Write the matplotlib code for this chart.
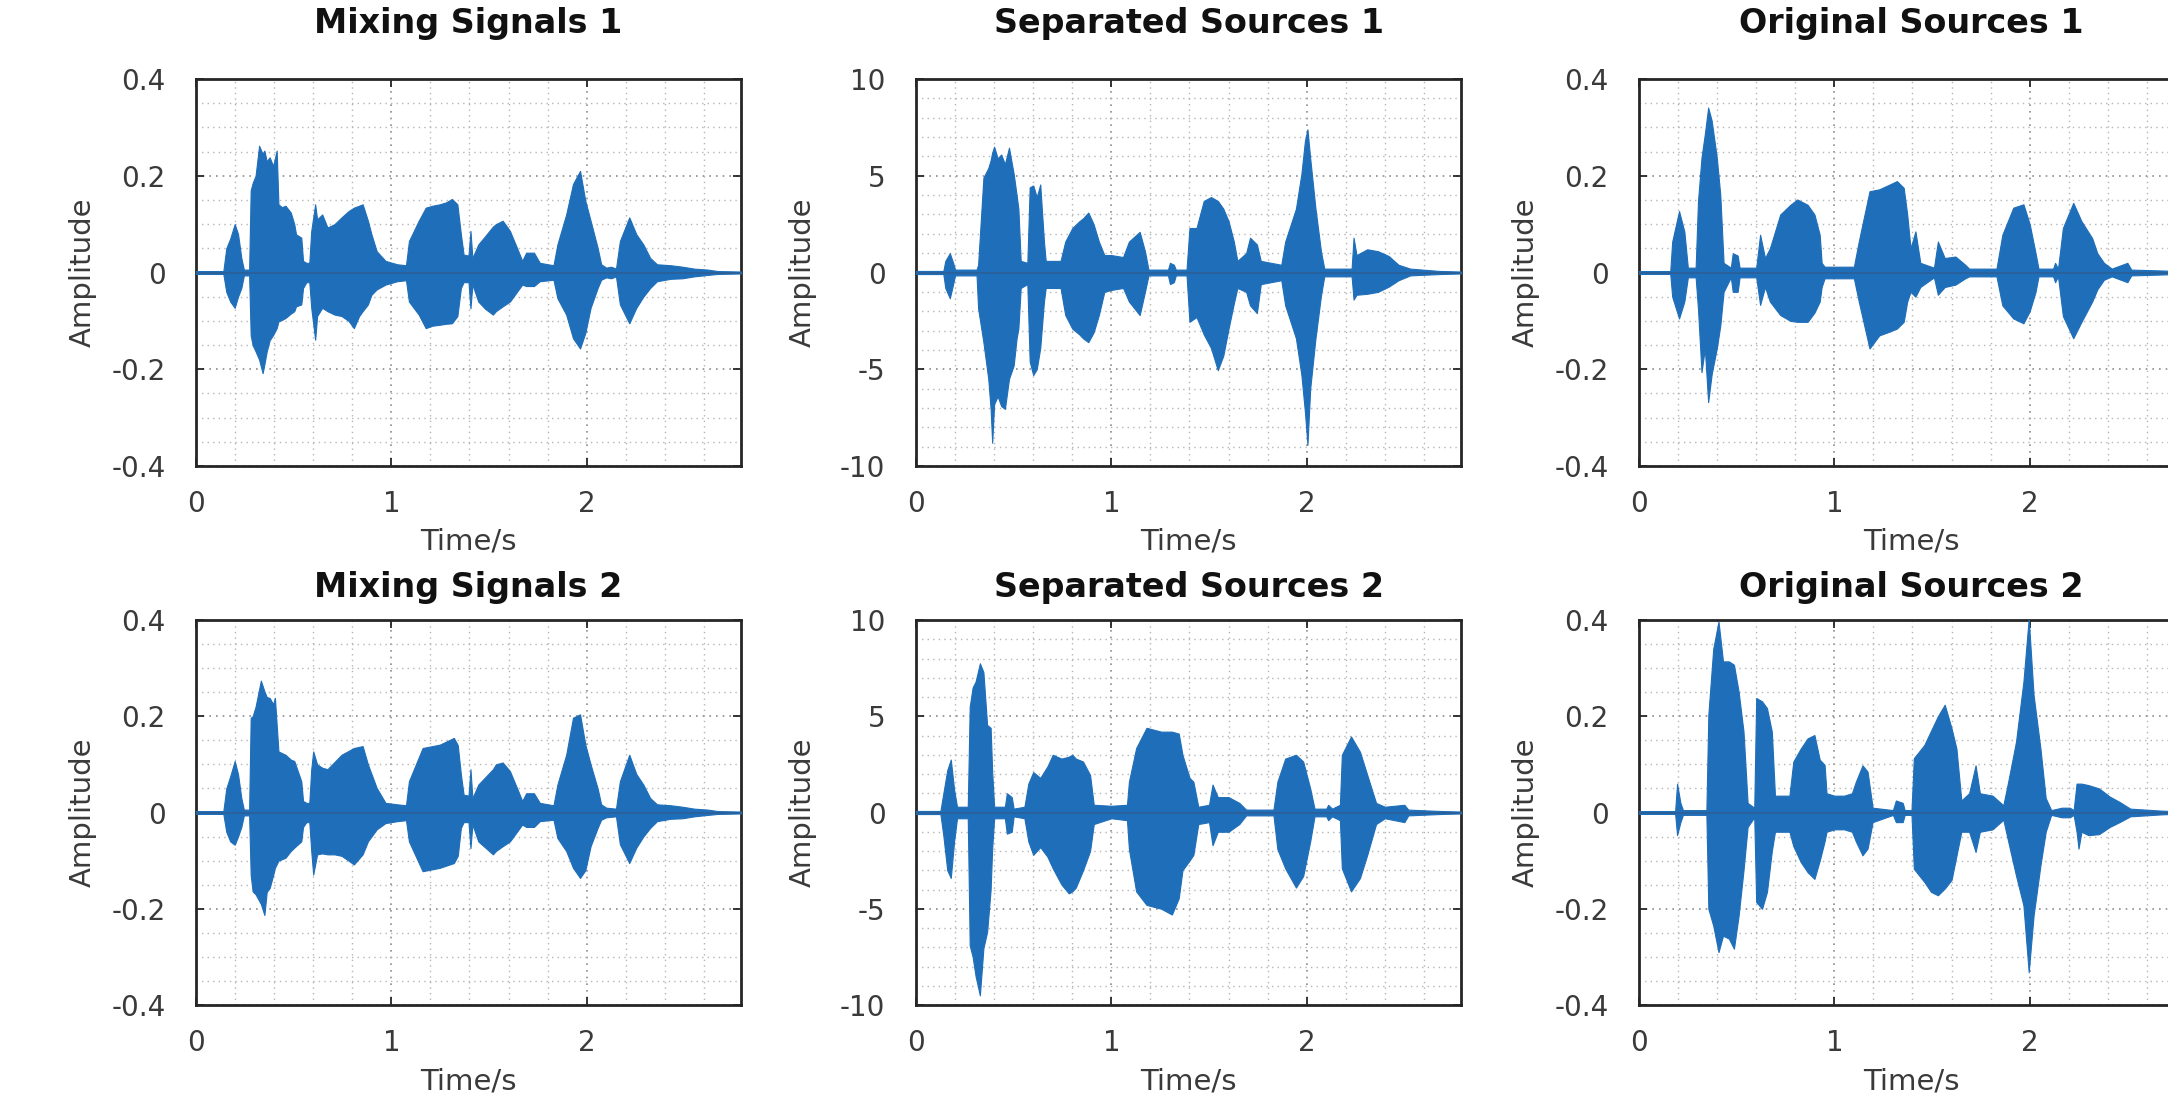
import numpy as np
import matplotlib
matplotlib.use("Agg")
import matplotlib.pyplot as plt
from matplotlib.ticker import MultipleLocator, FixedLocator

# ---------------- data (envelopes) ----------------
titles = ["Mixing Signals 1", "Separated Sources 1", "Original Sources 1",
          "Mixing Signals 2", "Separated Sources 2", "Original Sources 2"]

# Mixing Signals 1
ms1_t = [0.00, 0.14, 0.155, 0.175, 0.198, 0.215, 0.232, 0.245, 0.272, 0.280, 0.290, 0.305, 0.323, 0.341,
         0.350, 0.362, 0.377, 0.395, 0.413, 0.422, 0.440, 0.458, 0.485, 0.503, 0.512, 0.539, 0.548, 0.565,
         0.580, 0.590, 0.610, 0.620, 0.646, 0.673, 0.709, 0.745, 0.781, 0.808, 0.835, 0.853, 0.880, 0.898,
         0.925, 0.970, 1.030, 1.075, 1.090, 1.140, 1.176, 1.210, 1.248, 1.280, 1.310, 1.338, 1.356, 1.370,
         1.395, 1.405, 1.415, 1.445, 1.480, 1.520, 1.535, 1.570, 1.607, 1.643, 1.670, 1.690, 1.730, 1.760,
         1.830, 1.850, 1.895, 1.930, 1.966, 1.993, 2.020, 2.056, 2.074, 2.100, 2.125, 2.150, 2.170, 2.218,
         2.254, 2.290, 2.325, 2.360, 2.430, 2.490, 2.550, 2.620, 2.670, 2.790]
ms1_up = [0.003, 0.003, 0.05, 0.07, 0.10, 0.08, 0.03, 0.006, 0.006, 0.17, 0.185, 0.20, 0.262, 0.245,
          0.252, 0.23, 0.238, 0.22, 0.252, 0.141, 0.135, 0.138, 0.124, 0.10, 0.079, 0.072, 0.024, 0.02,
          0.02, 0.086, 0.141, 0.11, 0.12, 0.093, 0.10, 0.114, 0.127, 0.134, 0.138, 0.141, 0.107, 0.079,
          0.044, 0.024, 0.017, 0.015, 0.065, 0.107, 0.134, 0.138, 0.141, 0.145, 0.152, 0.141, 0.079, 0.037,
          0.035, 0.086, 0.03, 0.058, 0.075, 0.095, 0.10, 0.107, 0.086, 0.051, 0.024, 0.041, 0.041, 0.02,
          0.015, 0.058, 0.12, 0.183, 0.21, 0.148, 0.107, 0.051, 0.017, 0.01, 0.012, 0.008, 0.065, 0.114,
          0.079, 0.058, 0.03, 0.017, 0.015, 0.012, 0.008, 0.006, 0.003, 0.002]
ms1_lo = [-0.003, -0.003, -0.04, -0.06, -0.073, -0.05, -0.032, -0.006, -0.006, -0.13, -0.15, -0.163, -0.18, -0.208,
          -0.19, -0.163, -0.14, -0.129, -0.115, -0.101, -0.098, -0.094, -0.085, -0.08, -0.07, -0.066, -0.032, -0.02,
          -0.02, -0.073, -0.139, -0.09, -0.073, -0.08, -0.087, -0.09, -0.10, -0.115, -0.09, -0.08, -0.066, -0.046,
          -0.035, -0.025, -0.018, -0.016, -0.06, -0.087, -0.115, -0.11, -0.108, -0.106, -0.105, -0.09, -0.032, -0.02,
          -0.02, -0.074, -0.025, -0.06, -0.075, -0.087, -0.08, -0.07, -0.06, -0.04, -0.025, -0.028, -0.028, -0.018,
          -0.015, -0.053, -0.087, -0.136, -0.157, -0.125, -0.073, -0.032, -0.015, -0.01, -0.012, -0.008, -0.066, -0.105,
          -0.073, -0.05, -0.032, -0.018, -0.013, -0.012, -0.008, -0.005, -0.003, -0.002]

# Mixing Signals 2
ms2_t = [0.00, 0.14, 0.155, 0.175, 0.198, 0.215, 0.232, 0.245, 0.272, 0.280, 0.290, 0.305, 0.332, 0.350,
         0.362, 0.377, 0.395, 0.404, 0.422, 0.458, 0.485, 0.503, 0.539, 0.548, 0.565, 0.580, 0.590, 0.600,
         0.620, 0.646, 0.673, 0.709, 0.745, 0.781, 0.808, 0.853, 0.880, 0.925, 0.970, 1.030, 1.075, 1.090,
         1.160, 1.248, 1.320, 1.340, 1.356, 1.370, 1.395, 1.405, 1.415, 1.445, 1.520, 1.535, 1.570, 1.607,
         1.643, 1.670, 1.690, 1.730, 1.760, 1.830, 1.850, 1.895, 1.930, 1.966, 1.993, 2.020, 2.056, 2.074,
         2.100, 2.150, 2.170, 2.218, 2.254, 2.290, 2.325, 2.360, 2.430, 2.490, 2.550, 2.620, 2.670, 2.790]
ms2_up = [0.003, 0.003, 0.05, 0.075, 0.107, 0.08, 0.03, 0.006, 0.006, 0.197, 0.20, 0.22, 0.274, 0.252,
          0.24, 0.238, 0.225, 0.238, 0.127, 0.12, 0.11, 0.107, 0.065, 0.024, 0.02, 0.02, 0.09, 0.127,
          0.10, 0.093, 0.09, 0.105, 0.12, 0.128, 0.134, 0.138, 0.10, 0.051, 0.02, 0.017, 0.015, 0.065,
          0.134, 0.141, 0.155, 0.14, 0.079, 0.037, 0.035, 0.09, 0.03, 0.058, 0.09, 0.10, 0.104, 0.086,
          0.051, 0.024, 0.04, 0.04, 0.02, 0.015, 0.058, 0.12, 0.197, 0.204, 0.141, 0.10, 0.05, 0.017,
          0.01, 0.008, 0.065, 0.12, 0.08, 0.058, 0.03, 0.017, 0.015, 0.012, 0.008, 0.006, 0.003, 0.002]
ms2_lo = [-0.003, -0.003, -0.04, -0.06, -0.067, -0.05, -0.03, -0.006, -0.006, -0.13, -0.164, -0.17, -0.19, -0.213,
          -0.165, -0.157, -0.13, -0.115, -0.10, -0.094, -0.08, -0.073, -0.06, -0.03, -0.02, -0.02, -0.08, -0.129,
          -0.087, -0.085, -0.087, -0.087, -0.09, -0.10, -0.108, -0.087, -0.06, -0.035, -0.022, -0.018, -0.016, -0.06,
          -0.122, -0.115, -0.105, -0.09, -0.032, -0.02, -0.02, -0.074, -0.025, -0.06, -0.087, -0.08, -0.07, -0.06,
          -0.04, -0.025, -0.03, -0.03, -0.018, -0.015, -0.053, -0.08, -0.115, -0.136, -0.12, -0.07, -0.032, -0.015,
          -0.01, -0.008, -0.066, -0.105, -0.073, -0.05, -0.032, -0.018, -0.013, -0.012, -0.008, -0.005, -0.003, -0.002]

# Separated Sources 1
ss1_t = [0.00, 0.14, 0.150, 0.173, 0.190, 0.200, 0.310, 0.318, 0.345, 0.370, 0.382, 0.390, 0.400, 0.418,
         0.436, 0.455, 0.476, 0.500, 0.515, 0.524, 0.536, 0.570, 0.582, 0.600, 0.618, 0.636, 0.655, 0.664,
         0.740, 0.764, 0.800, 0.836, 0.855, 0.882, 0.909, 0.936, 0.964, 1.000, 1.060, 1.090, 1.145, 1.172,
         1.190, 1.290, 1.300, 1.320, 1.330, 1.385, 1.400, 1.436, 1.473, 1.510, 1.545, 1.573, 1.600, 1.627,
         1.645, 1.690, 1.710, 1.745, 1.765, 1.870, 1.890, 1.945, 1.973, 1.991, 2.004, 2.018, 2.045, 2.073,
         2.090, 2.230, 2.240, 2.255, 2.310, 2.365, 2.420, 2.470, 2.530, 2.680, 2.790]
ss1_up = [0.08, 0.08, 0.6, 1.0, 0.5, 0.15, 0.15, 0.4, 4.9, 5.4, 5.8, 6.2, 6.5, 5.9,
          6.1, 5.6, 6.45, 5.1, 4.0, 3.3, 0.6, 0.5, 4.4, 4.5, 3.9, 4.55, 1.6, 0.6,
          0.6, 1.6, 2.3, 2.65, 2.8, 3.1, 2.5, 1.6, 0.9, 0.9, 0.8, 1.6, 2.1, 1.1,
          0.15, 0.15, 0.5, 0.4, 0.15, 0.15, 2.3, 2.3, 3.7, 3.9, 3.7, 3.3, 2.65, 1.6,
          0.6, 1.0, 1.8, 1.45, 0.6, 0.4, 1.6, 3.3, 5.1, 6.8, 7.4, 5.9, 3.3, 1.1,
          0.2, 0.2, 1.8, 0.9, 1.2, 1.1, 0.85, 0.4, 0.2, 0.08, 0.05]
ss1_lo = [-0.08, -0.08, -0.8, -1.33, -0.6, -0.15, -0.15, -1.85, -3.6, -5.5, -7.05, -8.8, -6.8, -6.4,
          -6.9, -7.05, -5.5, -4.8, -3.4, -2.9, -0.8, -0.6, -4.6, -5.3, -5.0, -3.9, -1.5, -0.8,
          -0.8, -2.2, -2.9, -3.2, -3.4, -3.6, -3.1, -2.2, -1.0, -0.9, -0.8, -1.5, -2.2, -1.0,
          -0.15, -0.15, -0.6, -0.5, -0.15, -0.15, -2.55, -2.3, -3.2, -3.9, -5.05, -4.3, -2.9, -1.6,
          -0.8, -1.0, -1.7, -2.1, -0.6, -0.4, -1.7, -3.4, -5.3, -7.2, -8.9, -6.0, -3.4, -1.2,
          -0.2, -0.2, -1.4, -1.15, -1.1, -1.0, -0.73, -0.4, -0.15, -0.08, -0.05]

# Separated Sources 2
ss2_t = [0.00, 0.125, 0.140, 0.160, 0.178, 0.195, 0.210, 0.265, 0.275, 0.290, 0.305, 0.327, 0.345, 0.364,
         0.382, 0.390, 0.400, 0.455, 0.465, 0.490, 0.500, 0.555, 0.575, 0.600, 0.636, 0.673, 0.700, 0.745,
         0.782, 0.800, 0.818, 0.855, 0.891, 0.910, 1.000, 1.080, 1.090, 1.127, 1.180, 1.255, 1.310, 1.345,
         1.364, 1.400, 1.420, 1.445, 1.500, 1.518, 1.545, 1.600, 1.655, 1.690, 1.830, 1.850, 1.890, 1.945,
         1.982, 2.018, 2.040, 2.100, 2.110, 2.130, 2.170, 2.180, 2.227, 2.273, 2.310, 2.355, 2.400, 2.500,
         2.520, 2.680, 2.790]
ss2_up = [0.08, 0.08, 1.0, 2.2, 2.75, 1.2, 0.3, 0.3, 5.5, 6.5, 6.8, 7.75, 7.3, 4.55,
          4.4, 2.1, 0.3, 0.3, 1.0, 0.8, 0.2, 0.3, 1.5, 2.1, 1.8, 2.4, 3.0, 2.8,
          2.9, 3.0, 2.8, 2.65, 1.95, 0.4, 0.35, 0.4, 1.6, 3.35, 4.4, 4.2, 4.2, 4.1,
          3.0, 1.8, 1.6, 0.3, 0.4, 1.45, 0.8, 0.8, 0.5, 0.15, 0.15, 1.6, 2.8, 3.0,
          2.65, 1.25, 0.2, 0.2, 0.4, 0.2, 0.4, 3.0, 3.95, 3.15, 1.95, 0.5, 0.3, 0.4,
          0.15, 0.08, 0.05]
ss2_lo = [-0.08, -0.08, -1.2, -3.0, -3.4, -1.5, -0.3, -0.3, -6.9, -7.5, -8.5, -9.5, -7.05, -6.2,
          -4.0, -1.85, -0.3, -0.3, -1.1, -1.0, -0.2, -0.3, -1.5, -2.2, -1.8, -2.3, -2.9, -3.75,
          -4.2, -4.1, -3.9, -3.0, -2.0, -0.6, -0.3, -0.4, -1.9, -4.1, -4.8, -5.0, -5.3, -4.45,
          -3.0, -2.5, -2.2, -0.6, -0.5, -1.7, -1.0, -1.0, -0.6, -0.15, -0.15, -1.9, -2.9, -3.9,
          -3.3, -1.5, -0.2, -0.2, -0.4, -0.2, -0.4, -2.9, -4.1, -3.4, -2.2, -0.6, -0.3, -0.5,
          -0.15, -0.08, -0.05]

# Original Sources 1
os1_t = [0.00, 0.16, 0.170, 0.205, 0.232, 0.250, 0.290, 0.302, 0.320, 0.337, 0.354, 0.372, 0.398, 0.416,
         0.433, 0.470, 0.480, 0.505, 0.515, 0.600, 0.620, 0.645, 0.670, 0.723, 0.775, 0.810, 0.863, 0.898,
         0.925, 0.935, 0.950, 1.100, 1.125, 1.180, 1.230, 1.284, 1.320, 1.355, 1.373, 1.390, 1.415, 1.440,
         1.510, 1.530, 1.565, 1.620, 1.670, 1.690, 1.830, 1.860, 1.916, 1.968, 2.000, 2.030, 2.045, 2.120,
         2.130, 2.145, 2.170, 2.223, 2.265, 2.320, 2.346, 2.380, 2.420, 2.500, 2.520, 2.690, 2.790]
os1_up = [0.003, 0.003, 0.064, 0.127, 0.085, 0.01, 0.01, 0.147, 0.238, 0.286, 0.341, 0.314, 0.238, 0.161,
          0.02, 0.01, 0.04, 0.035, 0.01, 0.01, 0.078, 0.03, 0.05, 0.12, 0.14, 0.151, 0.14, 0.12,
          0.078, 0.02, 0.012, 0.012, 0.064, 0.168, 0.172, 0.182, 0.189, 0.175, 0.12, 0.05, 0.085, 0.02,
          0.01, 0.064, 0.03, 0.033, 0.016, 0.008, 0.008, 0.078, 0.134, 0.141, 0.10, 0.04, 0.008, 0.008,
          0.02, 0.008, 0.092, 0.144, 0.106, 0.071, 0.04, 0.02, 0.008, 0.02, 0.006, 0.004, 0.002]
os1_lo = [-0.003, -0.003, -0.05, -0.095, -0.06, -0.01, -0.01, -0.075, -0.206, -0.157, -0.268, -0.21, -0.157, -0.11,
          -0.04, -0.01, -0.04, -0.04, -0.01, -0.01, -0.067, -0.03, -0.06, -0.088, -0.10, -0.102, -0.102, -0.083,
          -0.06, -0.03, -0.012, -0.012, -0.06, -0.157, -0.13, -0.122, -0.116, -0.102, -0.06, -0.04, -0.05, -0.03,
          -0.01, -0.046, -0.03, -0.025, -0.012, -0.008, -0.008, -0.068, -0.095, -0.105, -0.08, -0.04, -0.008, -0.008,
          -0.02, -0.008, -0.09, -0.136, -0.102, -0.06, -0.035, -0.015, -0.008, -0.02, -0.006, -0.004, -0.002]

# Original Sources 2
os2_t = [0.00, 0.185, 0.195, 0.212, 0.225, 0.345, 0.355, 0.380, 0.407, 0.430, 0.460, 0.486, 0.510, 0.535,
         0.556, 0.590, 0.600, 0.630, 0.655, 0.680, 0.696, 0.770, 0.790, 0.828, 0.863, 0.898, 0.925, 0.950,
         0.960, 1.000, 1.050, 1.090, 1.110, 1.144, 1.170, 1.196, 1.300, 1.315, 1.350, 1.360, 1.395, 1.407,
         1.460, 1.495, 1.530, 1.565, 1.600, 1.625, 1.650, 1.690, 1.723, 1.745, 1.810, 1.865, 1.890, 1.930,
         1.968, 1.995, 2.020, 2.055, 2.082, 2.110, 2.165, 2.205, 2.225, 2.240, 2.250, 2.265, 2.300, 2.355,
         2.410, 2.460, 2.515, 2.670, 2.790]
os2_up = [0.003, 0.003, 0.06, 0.02, 0.005, 0.005, 0.203, 0.34, 0.397, 0.314, 0.314, 0.307, 0.251, 0.168,
          0.02, 0.01, 0.238, 0.231, 0.217, 0.168, 0.035, 0.035, 0.106, 0.133, 0.154, 0.161, 0.11, 0.099,
          0.04, 0.035, 0.035, 0.04, 0.064, 0.098, 0.085, 0.01, 0.005, 0.025, 0.02, 0.005, 0.005, 0.113,
          0.14, 0.17, 0.20, 0.224, 0.175, 0.133, 0.025, 0.04, 0.098, 0.04, 0.035, 0.015, 0.064, 0.147,
          0.272, 0.403, 0.244, 0.133, 0.03, 0.005, 0.01, 0.01, 0.005, 0.06, 0.06, 0.06, 0.057, 0.05,
          0.033, 0.022, 0.008, 0.004, 0.002]
os2_lo = [-0.003, -0.003, -0.047, -0.02, -0.005, -0.005, -0.2, -0.235, -0.29, -0.256, -0.262, -0.283, -0.214, -0.12,
          -0.03, -0.01, -0.186, -0.2, -0.165, -0.08, -0.04, -0.04, -0.07, -0.103, -0.124, -0.138, -0.10, -0.06,
          -0.04, -0.035, -0.035, -0.04, -0.06, -0.089, -0.075, -0.02, -0.005, -0.02, -0.02, -0.005, -0.005, -0.117,
          -0.144, -0.165, -0.172, -0.158, -0.14, -0.09, -0.04, -0.04, -0.082, -0.04, -0.035, -0.015, -0.06, -0.131,
          -0.193, -0.332, -0.214, -0.11, -0.04, -0.005, -0.01, -0.01, -0.005, -0.04, -0.075, -0.04, -0.047, -0.045,
          -0.03, -0.02, -0.008, -0.004, -0.002]

x_ticks = [0, 1, 2]
x_ticklabels = ["0", "1", "2"]
y_ticks_small = [-0.4, -0.2, 0, 0.2, 0.4]
y_ticklabels_small = ["-0.4", "-0.2", "0", "0.2", "0.4"]
y_ticks_big = [-10, -5, 0, 5, 10]
y_ticklabels_big = ["-10", "-5", "0", "5", "10"]

series = [(ms1_t, ms1_up, ms1_lo), (ss1_t, ss1_up, ss1_lo), (os1_t, os1_up, os1_lo),
          (ms2_t, ms2_up, ms2_lo), (ss2_t, ss2_up, ss2_lo), (os2_t, os2_up, os2_lo)]

# ---------------- layout / style ----------------
W, H = 2168, 1094
fig = plt.figure(figsize=(W / 100, H / 100), dpi=100)
plt.rcParams['font.family'] = ['DejaVu Sans']

BLUE = '#1f6eb9'
col_x = [196, 916, 1639]
ax_w = 545
rows = [(79, 466), (620, 1005)]
title_gap = [55, 32]   # px between axes top and title centre

for i, (title, (t, up, lo)) in enumerate(zip(titles, series)):
    r, c = divmod(i, 3)
    top, bot = rows[r]
    ax = fig.add_axes([col_x[c] / W, 1 - bot / H, ax_w / W, (bot - top) / H])
    big = (c == 1)
    t = np.asarray(t); up = np.asarray(up); lo = np.asarray(lo)
    ax.fill_between(t, lo, up, color=BLUE, linewidth=0.8, edgecolor=BLUE, zorder=3)
    ax.plot(t, np.zeros_like(t), color='#2a5f95', linewidth=1.2, zorder=3)

    ax.set_xlim(0, 2.79)
    if big:
        ax.set_ylim(-10, 10)
        ax.yaxis.set_major_locator(FixedLocator(y_ticks_big))
        ax.set_yticklabels(y_ticklabels_big)
        ax.yaxis.set_minor_locator(MultipleLocator(1))
    else:
        ax.set_ylim(-0.4, 0.4)
        ax.yaxis.set_major_locator(FixedLocator(y_ticks_small))
        ax.set_yticklabels(y_ticklabels_small)
        ax.yaxis.set_minor_locator(MultipleLocator(0.05))
    ax.xaxis.set_major_locator(FixedLocator(x_ticks))
    ax.set_xticklabels(x_ticklabels)
    ax.xaxis.set_minor_locator(MultipleLocator(0.2))

    ax.set_axisbelow(True)
    ax.grid(which='major', linestyle=(0, (1, 3)), color='#8c8c8c', linewidth=1.2, zorder=0)
    ax.grid(which='minor', linestyle=(0, (1, 3)), color='#b5b5b5', linewidth=1.0, zorder=0)

    ax.tick_params(which='major', direction='in', top=True, right=True, length=6, width=1.3,
                   labelsize=20, labelcolor='#3a3a3a', color='#262626')
    ax.tick_params(axis='x', which='major', pad=17)
    ax.tick_params(axis='y', which='major', pad=22)
    ax.tick_params(which='minor', length=0)
    for s in ax.spines.values():
        s.set_linewidth(2.0)
        s.set_color('#262626')

    h = bot - top
    ax.set_xlabel("Time/s", fontsize=21, color='#3a3a3a')
    ax.xaxis.label.set_va('center')
    ax.xaxis.set_label_coords(0.5, -76 / h)
    ax.set_ylabel("Amplitude", fontsize=21, color='#3a3a3a')
    ax.yaxis.label.set_va('center')
    ax.yaxis.set_label_coords(-113 / ax_w, 0.5)
    ax.text(0.5, 1 + title_gap[r] / h, title, transform=ax.transAxes, ha='center', va='center',
            fontsize=24, fontweight='bold', color='#111111')

fig.savefig("out.png", dpi=100, facecolor='white')
